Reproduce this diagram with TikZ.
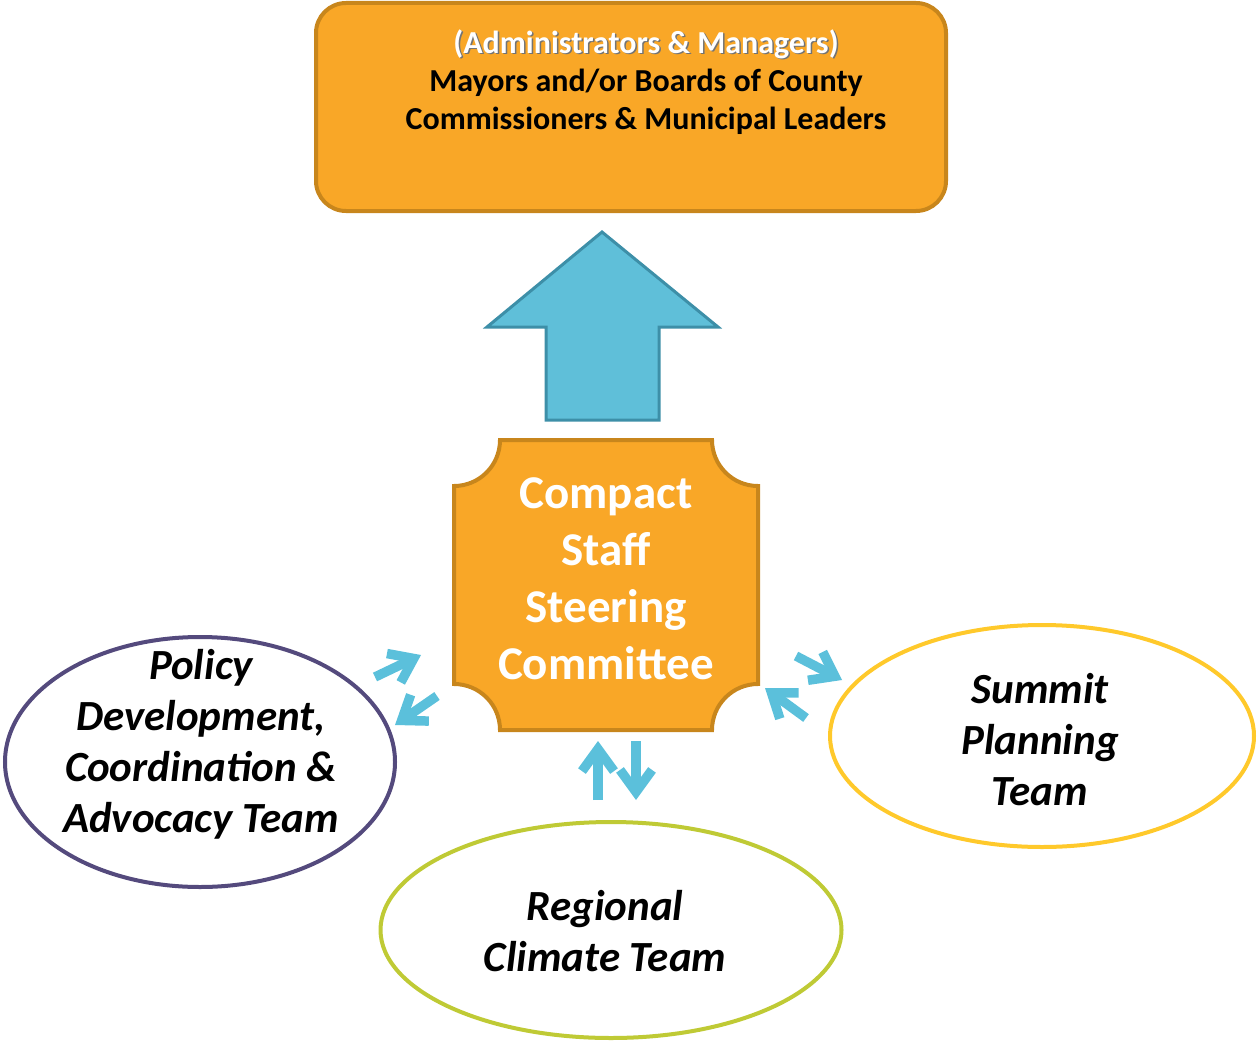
\documentclass[tikz,border=0pt]{standalone}
\usepackage{fontspec}
\setmainfont{Carlito}
\usetikzlibrary{arrows.meta}
\definecolor{orfill}{HTML}{F9A727}
\definecolor{ordraw}{HTML}{C8861C}
\definecolor{bigfill}{HTML}{5FBFD9}
\definecolor{bigdraw}{HTML}{3D8FA8}
\definecolor{smallarr}{HTML}{5BC0DB}
\definecolor{purp}{HTML}{544A7D}
\definecolor{yell}{HTML}{FFC92B}
\definecolor{olive}{HTML}{BFCA35}
\tikzset{
  orbox/.style={fill=orfill, draw=ordraw, line width=4pt},
  team/.style={draw, line width=4pt, fill=white, ellipse},
  teamtext/.style={align=center, font=\fontsize{43}{51}\selectfont\bfseries\itshape, inner sep=0pt},
  twoway/.style={draw=smallarr, line width=9.5pt, -{Straight Barb[length=22pt,width=32pt]}},
}
\usetikzlibrary{shapes.geometric}
\begin{document}
\begin{tikzpicture}[x=1pt,y=-1pt]
\useasboundingbox (0,0) rectangle (1257,1043);
% top box
\draw[orbox, rounded corners=30pt] (316,3) rectangle (946,211);
\node[align=center, inner sep=0pt, text=black!55, font=\fontsize{32}{38}\selectfont\bfseries] (topshadow) at (647.5,83.5) {(Administrators \& Managers)\\\phantom{Mayors and/or Boards of County}\\\phantom{Commissioners \& Municipal Leaders}};
\node[align=center, inner sep=0pt, font=\fontsize{32}{38}\selectfont\bfseries] (top) at (646,82) {\textcolor{white}{(Administrators \& Managers)}\\Mayors and/or Boards of County\\Commissioners \& Municipal Leaders};
% big arrow
\draw[fill=bigfill, draw=bigdraw, line width=3pt, line join=miter] (546,420) -- (546,327) -- (487,327) -- (602,232) -- (718,327) -- (659,327) -- (659,420) -- cycle;
% center box with concave corners
\draw[orbox] (500,440) -- (712,440) arc[start angle=180,end angle=90,radius=46] -- (758,684) arc[start angle=270,end angle=180,radius=46] -- (500,730) arc[start angle=0,end angle=-90,radius=46] -- (454,486) arc[start angle=90,end angle=0,radius=46] -- cycle;
\node[align=center, inner sep=0pt, text=white, font=\fontsize{47}{57}\selectfont\bfseries] (csc) at (606,579) {Compact\\Staff\\Steering\\Committee};
% ellipses
\node[team, draw=purp, minimum width=390pt, minimum height=250pt, inner sep=0pt] (policy) at (200,762) {};
\node[teamtext] (policyt) at (201,744) {Policy\\Development,\\Coordination \&\\Advocacy Team};
\node[team, draw=yell, minimum width=424pt, minimum height=222pt, inner sep=0pt] (summit) at (1042,736) {};
\node[teamtext] (summitt) at (1040,740) {Summit\\Planning\\Team};
\node[team, draw=olive, minimum width=461pt, minimum height=216pt, inner sep=0pt] (regional) at (611,930) {};
\node[teamtext] (regionalt) at (605,931) {Regional\\Climate Team};
% small arrows
\coordinate (l1a) at (375,677); \coordinate (l1b) at (421,655);
\coordinate (l2a) at (437,696); \coordinate (l2b) at (395,725);
\coordinate (b1a) at (598,800); \coordinate (b1b) at (598,741);
\coordinate (b2a) at (636,741); \coordinate (b2b) at (636,800);
\coordinate (r1a) at (796,656); \coordinate (r1b) at (842,680);
\coordinate (r2a) at (806,718); \coordinate (r2b) at (765,688);
\draw[twoway] (l1a) -- (l1b);
\draw[twoway] (l2a) -- (l2b);
\draw[twoway] (b1a) -- (b1b);
\draw[twoway] (b2a) -- (b2b);
\draw[twoway] (r1a) -- (r1b);
\draw[twoway] (r2a) -- (r2b);
\end{tikzpicture}
\end{document}
